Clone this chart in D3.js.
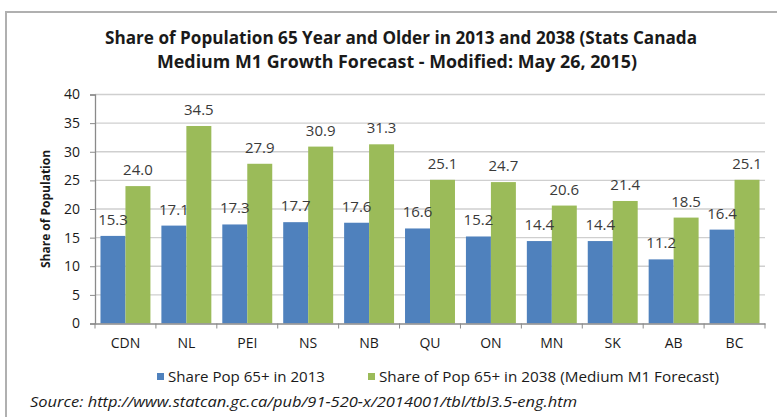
<!DOCTYPE html>
<html>
<head>
<meta charset="utf-8">
<script src="https://cdn.jsdelivr.net/npm/d3@7"></script>
<style>
  body { margin:0; background:#fff; }
  text { font-family: "Open Sans", sans-serif; }
</style>
</head>
<body>
<svg></svg>
<script>
var regions = ["CDN","NL","PEI","NS","NB","QU","ON","MN","SK","AB","BC"];
var share2013 = [15.3,17.1,17.3,17.7,17.6,16.6,15.2,14.4,14.4,11.2,16.4];
var share2038 = [24.0,34.5,27.9,30.9,31.3,25.1,24.7,20.6,21.4,18.5,25.1];
var seriesNames = ["Share Pop 65+ in 2013","Share of Pop 65+ in 2038 (Medium M1 Forecast)"];
var yTicks = [0,5,10,15,20,25,30,35,40];

var screen = { width:777, height:417 };

var svg = d3.select("svg")
  .attr("width",screen.width)
  .attr("height",screen.height);

var margins = { top:94.5, bottom:93.5, left:95, right:12 };
var width = screen.width - margins.left - margins.right;
var height = screen.height - margins.top - margins.bottom;

var colors = ["#4f81bd","#9bbb59"];

// chart frame
svg.append("rect")
  .attr("x",6).attr("y",12)
  .attr("width",800).attr("height",440)
  .attr("fill","none")
  .attr("stroke","#b0b0b0")
  .attr("stroke-width",2);

// title
var title = svg.append("text")
  .attr("text-anchor","middle")
  .attr("font-size",17.5)
  .attr("font-weight","bold")
  .attr("fill","#1a1a1a");
title.append("tspan").attr("x",401).attr("y",44)
  .attr("textLength",592).attr("lengthAdjust","spacingAndGlyphs")
  .text("Share of Population 65 Year and Older in 2013 and 2038 (Stats Canada");
title.append("tspan").attr("x",397).attr("y",68)
  .attr("textLength",480).attr("lengthAdjust","spacingAndGlyphs")
  .text("Medium M1 Growth Forecast - Modified: May 26, 2015)");

var xScale = d3.scaleBand()
  .domain(regions)
  .range([0,width])
  .paddingInner(0.18)
  .paddingOuter(0.09);
var xSub = d3.scaleBand()
  .domain([0,1])
  .range([0,xScale.bandwidth()]);
var yScale = d3.scaleLinear().domain([0,40]).range([height,0]);

var plot = svg.append("g")
  .attr("transform","translate("+margins.left+","+margins.top+")");

// gridlines
plot.append("g").selectAll("line")
  .data(yTicks.slice(1))
  .enter()
  .append("line")
  .attr("x1",0).attr("x2",width)
  .attr("y1",function(d){return yScale(d)})
  .attr("y2",function(d){return yScale(d)})
  .attr("stroke","#cfcfcf")
  .attr("stroke-width",1.3);

var rows = regions.map(function(r,i){ return {name:r, vals:[share2013[i],share2038[i]]}; });

var groups = plot.selectAll("g.grp")
  .data(rows)
  .enter()
  .append("g")
  .classed("grp",true)
  .attr("transform",function(d){ return "translate("+xScale(d.name)+",0)"; });

groups.selectAll("rect")
  .data(function(d){ return d.vals; })
  .enter()
  .append("rect")
  .attr("x",function(d,i){ return xSub(i); })
  .attr("width",xSub.bandwidth())
  .attr("y",function(d){ return yScale(d); })
  .attr("height",function(d){ return height - yScale(d); })
  .attr("fill",function(d,i){ return colors[i]; });

groups.selectAll("text")
  .data(function(d){ return d.vals; })
  .enter()
  .append("text")
  .attr("x",function(d,i){ return xSub(i) + xSub.bandwidth()/2; })
  .attr("y",function(d){ return yScale(d) - 11; })
  .attr("text-anchor","middle")
  .attr("font-size",15)
  .attr("fill","#3a3a3a")
  .text(function(d){ return d.toFixed(1); });

// axes
var xAxis = d3.axisBottom(xScale).tickSize(0).tickPadding(15);
var xg = plot.append("g")
  .attr("transform","translate(0,"+height+")")
  .call(xAxis);
xg.select(".domain").attr("stroke","#8a8a8a").attr("stroke-width",1.3);
xg.selectAll("text").attr("font-size",14).attr("fill","#1a1a1a")
  .attr("font-family","'Open Sans', sans-serif");

// category boundary ticks
plot.append("g").selectAll("line")
  .data(d3.range(regions.length+1))
  .enter()
  .append("line")
  .attr("x1",function(d){ return d*width/regions.length; })
  .attr("x2",function(d){ return d*width/regions.length; })
  .attr("y1",height).attr("y2",height+5)
  .attr("stroke","#8a8a8a");

var yAxis = d3.axisLeft(yScale).tickValues(yTicks).tickSize(5).tickPadding(10);
var yg = plot.append("g").call(yAxis);
yg.select(".domain").attr("stroke","#8a8a8a").attr("stroke-width",1.3);
yg.selectAll("line").attr("stroke","#8a8a8a");
yg.selectAll("text").attr("font-size",14).attr("fill","#1a1a1a")
  .attr("font-family","'Open Sans', sans-serif");

// y title
svg.append("text")
  .attr("transform","translate(50,"+(margins.top+height/2)+") rotate(-90)")
  .attr("text-anchor","middle")
  .attr("font-size",12)
  .attr("font-weight","bold")
  .attr("fill","#1a1a1a")
  .text("Share of Population");

// legend
var legendX = [157,368];
var legendLen = [157,340];
var legend = svg.append("g");
var items = legend.selectAll("g")
  .data(seriesNames)
  .enter()
  .append("g")
  .attr("transform",function(d,i){ return "translate("+legendX[i]+",373)"; });
items.append("rect")
  .attr("width",7).attr("height",7)
  .attr("fill",function(d,i){ return colors[i]; });
items.append("text")
  .attr("x",11).attr("y",9)
  .attr("font-size",14.5)
  .attr("fill","#1a1a1a")
  .attr("textLength",function(d,i){ return legendLen[i]; })
  .attr("lengthAdjust","spacingAndGlyphs")
  .text(function(d){ return d; });

// source
svg.append("text")
  .attr("x",30).attr("y",407)
  .attr("font-size",15)
  .attr("font-style","italic")
  .attr("fill","#1a1a1a")
  .attr("textLength",547)
  .attr("lengthAdjust","spacingAndGlyphs")
  .text("Source: http://www.statcan.gc.ca/pub/91-520-x/2014001/tbl/tbl3.5-eng.htm");
</script>
</body>
</html>
